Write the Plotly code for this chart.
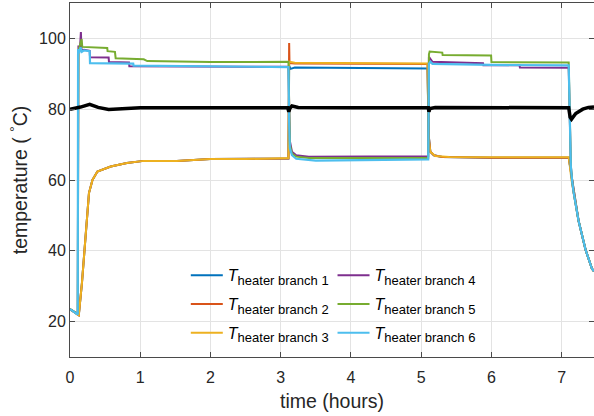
import plotly.graph_objects as go

# ---- measured temperatures (time in hours, temperature in degC) ----
t_b1 = [0, 0.11, 0.125, 0.17, 0.22, 0.27, 0.32, 0.39, 0.58, 0.81, 1.05, 1.52, 2.0, 2.5, 3.11,
        3.12, 3.14, 3.2, 4.0, 5.09,
        5.1, 5.11, 5.13, 5.18, 5.3, 6.0, 7.1,
        7.11, 7.12, 7.14, 7.17, 7.24, 7.34, 7.43, 7.46]
T_b1 = [23.5, 22.2, 21.8, 30.9, 45.0, 56.3, 60.0, 62.4, 63.8, 64.8, 65.4, 65.4, 65.9, 65.9, 66.1,
        92.3, 91.4, 91.8, 91.7, 91.5,
        80.0, 72.0, 68.0, 67.0, 66.5, 66.3, 66.3,
        65.0, 63.0, 60.0, 56.5, 48.5, 40.3, 35.0, 34.2]

t_b2 = [0, 0.11, 0.125, 0.17, 0.22, 0.27, 0.32, 0.39, 0.58, 0.81, 1.05, 1.52, 2.0, 2.5, 3.11,
        3.12, 3.125, 3.2, 4.0, 5.09,
        5.1, 5.11, 5.13, 5.18, 5.3, 6.0, 7.1,
        7.11, 7.12, 7.14, 7.17, 7.24, 7.34, 7.43, 7.46]
T_b2 = [23.5, 22.2, 21.8, 30.9, 45.0, 56.3, 60.0, 62.4, 63.8, 64.8, 65.4, 65.4, 65.9, 65.9, 66.1,
        98.7, 93.0, 92.9, 92.8, 92.8,
        80.0, 72.0, 68.0, 67.0, 66.5, 66.3, 66.3,
        65.0, 63.0, 60.0, 56.5, 48.5, 40.3, 35.0, 34.2]

t_b3 = [0, 0.11, 0.125, 0.17, 0.22, 0.27, 0.32, 0.39, 0.58, 0.81, 1.05, 1.52, 2.0, 2.5, 3.11,
        3.12, 3.2, 4.0, 5.09,
        5.1, 5.11, 5.13, 5.2, 5.4, 6.0, 7.1,
        7.11, 7.12, 7.14, 7.17, 7.24, 7.34, 7.43, 7.46]
T_b3 = [23.5, 22.2, 21.8, 30.9, 45.0, 56.3, 60.0, 62.4, 63.8, 64.8, 65.4, 65.4, 65.9, 65.9, 66.2,
        93.4, 93.1, 93.0, 92.9,
        78.0, 71.0, 68.0, 66.8, 66.5, 66.5, 66.4,
        65.0, 63.0, 60.0, 56.5, 48.5, 40.3, 35.0, 34.2]

t_b4 = [0, 0.11, 0.12, 0.14, 0.155, 0.165, 0.2, 0.28, 0.285, 0.55, 0.555, 0.84, 0.845, 1.5, 2.5, 3.11,
        3.12, 3.13, 3.16, 3.22, 3.4, 4.5, 5.1,
        5.11, 5.13, 5.16, 5.88, 5.885, 6.4, 6.405, 7.1,
        7.115, 7.13, 7.15, 7.17, 7.24, 7.34, 7.43, 7.46]
T_b4 = [23.5, 22.2, 98.0, 96.5, 101.8, 96.5, 96.8, 96.5, 94.7, 94.6, 93.3, 93.2, 92.1, 92.0, 92.0, 92.0,
        78.0, 71.0, 68.0, 67.0, 66.6, 66.6, 66.7,
        94.8, 94.2, 93.4, 93.0, 92.4, 92.4, 91.8, 91.7,
        75.0, 64.0, 59.5, 56.5, 48.5, 40.3, 35.0, 34.2]

t_b5 = [0, 0.11, 0.12, 0.14, 0.165, 0.175, 0.29, 0.53, 0.535, 0.64, 0.65, 1.05, 1.1, 2.0, 3.11,
        3.12, 3.13, 3.16, 3.22, 3.4, 5.1,
        5.11, 5.12, 5.3, 5.305, 5.995, 6.0, 7.1,
        7.115, 7.13, 7.15, 7.17, 7.24, 7.34, 7.43, 7.46]
T_b5 = [23.5, 22.2, 96.5, 98.0, 99.8, 97.6, 97.5, 97.3, 96.4, 96.2, 94.4, 94.1, 93.6, 93.3, 93.4,
        77.0, 70.0, 67.5, 66.6, 66.2, 66.2,
        95.5, 96.3, 96.0, 95.3, 95.2, 93.3, 93.2,
        75.0, 64.0, 59.5, 56.5, 48.5, 40.3, 35.0, 34.2]

t_b6 = [0, 0.11, 0.115, 0.13, 0.15, 0.17, 0.2, 0.28, 0.285, 0.9, 0.905, 2.0, 3.11,
        3.12, 3.13, 3.16, 3.22, 3.5, 4.5, 5.1,
        5.11, 5.13, 5.16, 6.0, 7.1,
        7.115, 7.13, 7.15, 7.17, 7.24, 7.34, 7.43, 7.46]
T_b6 = [23.5, 22.0, 97.0, 95.8, 97.5, 96.2, 96.6, 96.4, 93.0, 92.9, 92.3, 92.1, 91.9,
        76.0, 69.0, 67.0, 66.0, 65.5, 65.6, 65.8,
        92.8, 93.4, 92.8, 92.5, 92.4,
        75.0, 64.0, 59.5, 56.5, 48.5, 40.3, 35.0, 34.2]

# supply (setpoint-controlled) temperature, black trace
t_sup = [0, 0.15, 0.28, 0.4, 0.55, 0.7, 1.0, 2.0, 3.1, 3.115, 3.13, 3.16, 3.25, 4.0,
         5.1, 5.11, 5.125, 5.2, 6.0, 7.1, 7.12, 7.14, 7.2, 7.3, 7.38, 7.46]
T_sup = [80.0, 80.6, 81.4, 80.5, 79.9, 80.1, 80.4, 80.4, 80.4, 79.3, 80.2, 80.9, 80.5, 80.4,
         80.4, 79.3, 80.2, 80.5, 80.4, 80.4, 77.8, 77.2, 78.8, 80.0, 80.5, 80.6]

branch_labels = ["heater branch 1", "heater branch 2", "heater branch 3",
                 "heater branch 4", "heater branch 5", "heater branch 6"]
branch_colors = ["#0072BD", "#D95319", "#EDB120", "#7E2F8E", "#77AC30", "#4DBEEE"]
x_ticks = [0, 1, 2, 3, 4, 5, 6, 7]
y_ticks = [20, 40, 60, 80, 100]

FONT = "Liberation Sans, Arial, sans-serif"
TXT = "#262626"

fig = go.Figure()
series = [(t_b1, T_b1), (t_b2, T_b2), (t_b3, T_b3), (t_b4, T_b4), (t_b5, T_b5), (t_b6, T_b6)]
for i, ((tt, vv), lab, col) in enumerate(zip(series, branch_labels, branch_colors)):
    fig.add_trace(go.Scatter(
        x=tt, y=vv, mode="lines",
        line=dict(color=col, width=2.2 if i == 5 else 2),
        name='<i>T</i><sub><span style="font-size:13px">' + lab + '</span></sub>',
        legend="legend" if i < 3 else "legend2",
        legendgroup=f"g{i}",
    ))
fig.add_trace(go.Scatter(x=t_sup, y=T_sup, mode="lines",
                         line=dict(color="black", width=3.5), showlegend=False))

axis_common = dict(
    showline=True, linecolor="#4a4a4a", linewidth=1, mirror="ticks",
    ticks="inside", ticklen=5, tickcolor="#4a4a4a",
    showgrid=True, gridcolor="#e3e3e3", gridwidth=1, zeroline=False,
    tickfont=dict(family=FONT, size=16, color=TXT),
)
fig.update_xaxes(range=[0, 7.46], tickvals=x_ticks, ticklabelstandoff=6,
                 title=dict(text="time (hours)", font=dict(family=FONT, size=19.5, color=TXT), standoff=9),
                 **axis_common)
fig.update_yaxes(range=[10, 110], tickvals=y_ticks,
                 title=dict(text="temperature ( <sup>°</sup>C)", font=dict(family=FONT, size=19.5, color=TXT),
                            standoff=6),
                 **axis_common)

leg_common = dict(bgcolor="rgba(0,0,0,0)", borderwidth=0, yanchor="top", y=0.279,
                  xanchor="left", traceorder="grouped", tracegroupgap=5, itemwidth=32,
                  font=dict(family=FONT, size=16, color="black"))
fig.update_layout(
    width=594, height=416,
    margin=dict(l=69.5, r=0, t=3, b=58.5),
    paper_bgcolor="white", plot_bgcolor="white",
    legend=dict(x=0.221, **leg_common),
    legend2=dict(x=0.501, **leg_common),
)
fig.write_html("out.html")
